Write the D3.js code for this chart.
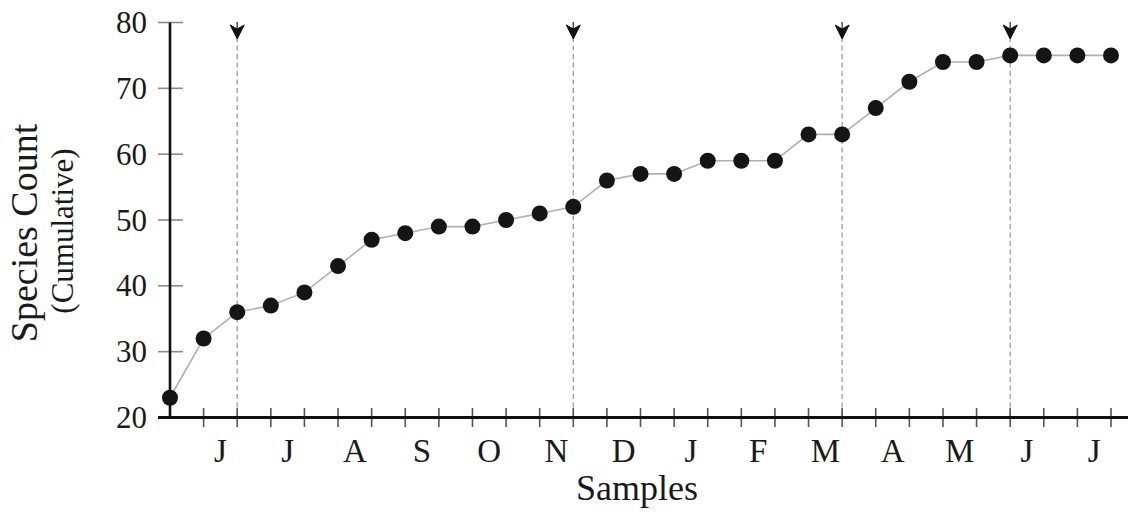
<!DOCTYPE html>
<html>
<head>
<meta charset="utf-8">
<script src="https://cdn.jsdelivr.net/npm/d3@7"></script>
<style>
  html, body { margin: 0; padding: 0; background: #ffffff; }
  svg { display: block; }
  text { font-family: "Liberation Serif", "Times New Roman", serif; fill: #1a1a1a; }
</style>
</head>
<body>
<svg id="chart" width="1131" height="514"></svg>
<script>
// ---- data ----
const speciesCount = [23, 32, 36, 37, 39, 43, 47, 48, 49, 49, 50, 51, 52, 56, 57, 57, 59, 59, 59, 63, 63, 67, 71, 74, 74, 75, 75, 75, 75];
const monthLabels = ["J", "J", "A", "S", "O", "N", "D", "J", "F", "M", "A", "M", "J", "J"];
const monthPositions = [1.5, 3.5, 5.5, 7.5, 9.5, 11.5, 13.5, 15.5, 17.5, 19.5, 21.5, 23.5, 25.5, 27.5];
const markerSamples = [2, 12, 20, 25];
const yTickValues = [20, 30, 40, 50, 60, 70, 80];

const svg = d3.select("#chart");

const x = d3.scaleLinear().domain([0, speciesCount.length - 1]).range([170, 1111]);
const y = d3.scaleLinear().domain([20, 80]).range([417.5, 22.5]);

// dashed marker lines
const markers = svg.append("g");
markers.selectAll("line")
  .data(markerSamples)
  .enter().append("line")
  .attr("x1", d => x(d)).attr("x2", d => x(d))
  .attr("y1", 37).attr("y2", y(20))
  .attr("stroke", "#9a9a9a").attr("stroke-width", 1.3)
  .attr("stroke-dasharray", "5,3.5");
markers.selectAll("path.stem")
  .data(markerSamples)
  .enter().append("path")
  .attr("class", "stem")
  .attr("transform", d => `translate(${x(d)},0)`)
  .attr("d", "M0,22 L0,30")
  .attr("stroke", "#333").attr("stroke-width", 1.3);
markers.selectAll("path.head")
  .data(markerSamples)
  .enter().append("path")
  .attr("class", "head")
  .attr("transform", d => `translate(${x(d)},0)`)
  .attr("d", "M-7,25 L0,29 L7,25 L0,39 Z")
  .attr("fill", "#111").attr("stroke", "#111").attr("stroke-width", 1)
  .attr("stroke-linejoin", "round");

// x ticks
svg.append("g").selectAll("line")
  .data(d3.range(1, speciesCount.length))
  .enter().append("line")
  .attr("x1", d => x(d)).attr("x2", d => x(d))
  .attr("y1", 408).attr("y2", 427)
  .attr("stroke", "#555").attr("stroke-width", 1.6);

// y ticks
svg.append("g").selectAll("line")
  .data(yTickValues)
  .enter().append("line")
  .attr("x1", 158).attr("x2", 183)
  .attr("y1", d => y(d)).attr("y2", d => y(d))
  .attr("stroke", "#8a8a8a").attr("stroke-width", 1.6);

// y tick labels
svg.append("g").selectAll("text")
  .data(yTickValues)
  .enter().append("text")
  .attr("x", 147).attr("y", d => y(d))
  .attr("dy", "0.34em")
  .attr("text-anchor", "end")
  .attr("font-size", 31)
  .text(d => d);

// axes lines
svg.append("line")
  .attr("x1", 170).attr("x2", 170).attr("y1", y(80)).attr("y2", y(20) + 1)
  .attr("stroke", "#111").attr("stroke-width", 2.6);
svg.append("line")
  .attr("x1", 158).attr("x2", 1128).attr("y1", y(20)).attr("y2", y(20))
  .attr("stroke", "#111").attr("stroke-width", 3.2);

// month labels
svg.append("g").selectAll("text")
  .data(monthLabels)
  .enter().append("text")
  .attr("x", (d, i) => x(monthPositions[i]))
  .attr("y", 462)
  .attr("text-anchor", "middle")
  .attr("font-size", 33)
  .text(d => d);

// axis titles
svg.append("text")
  .attr("x", 637).attr("y", 500)
  .attr("text-anchor", "middle")
  .attr("font-size", 36)
  .text("Samples");
svg.append("text")
  .attr("transform", "translate(37,233) rotate(-90)")
  .attr("text-anchor", "middle")
  .attr("font-size", 38)
  .text("Species Count");
svg.append("text")
  .attr("transform", "translate(73,231) rotate(-90)")
  .attr("text-anchor", "middle")
  .attr("font-size", 31)
  .text("(Cumulative)");

// connecting line
const line = d3.line().x((d, i) => x(i)).y(d => y(d));
svg.append("path")
  .datum(speciesCount)
  .attr("d", line)
  .attr("fill", "none")
  .attr("stroke", "#b0b0b0").attr("stroke-width", 1.6);

// points
svg.append("g").selectAll("circle")
  .data(speciesCount)
  .enter().append("circle")
  .attr("cx", (d, i) => x(i)).attr("cy", d => y(d))
  .attr("r", 8)
  .attr("fill", "#151515");
</script>
</body>
</html>
